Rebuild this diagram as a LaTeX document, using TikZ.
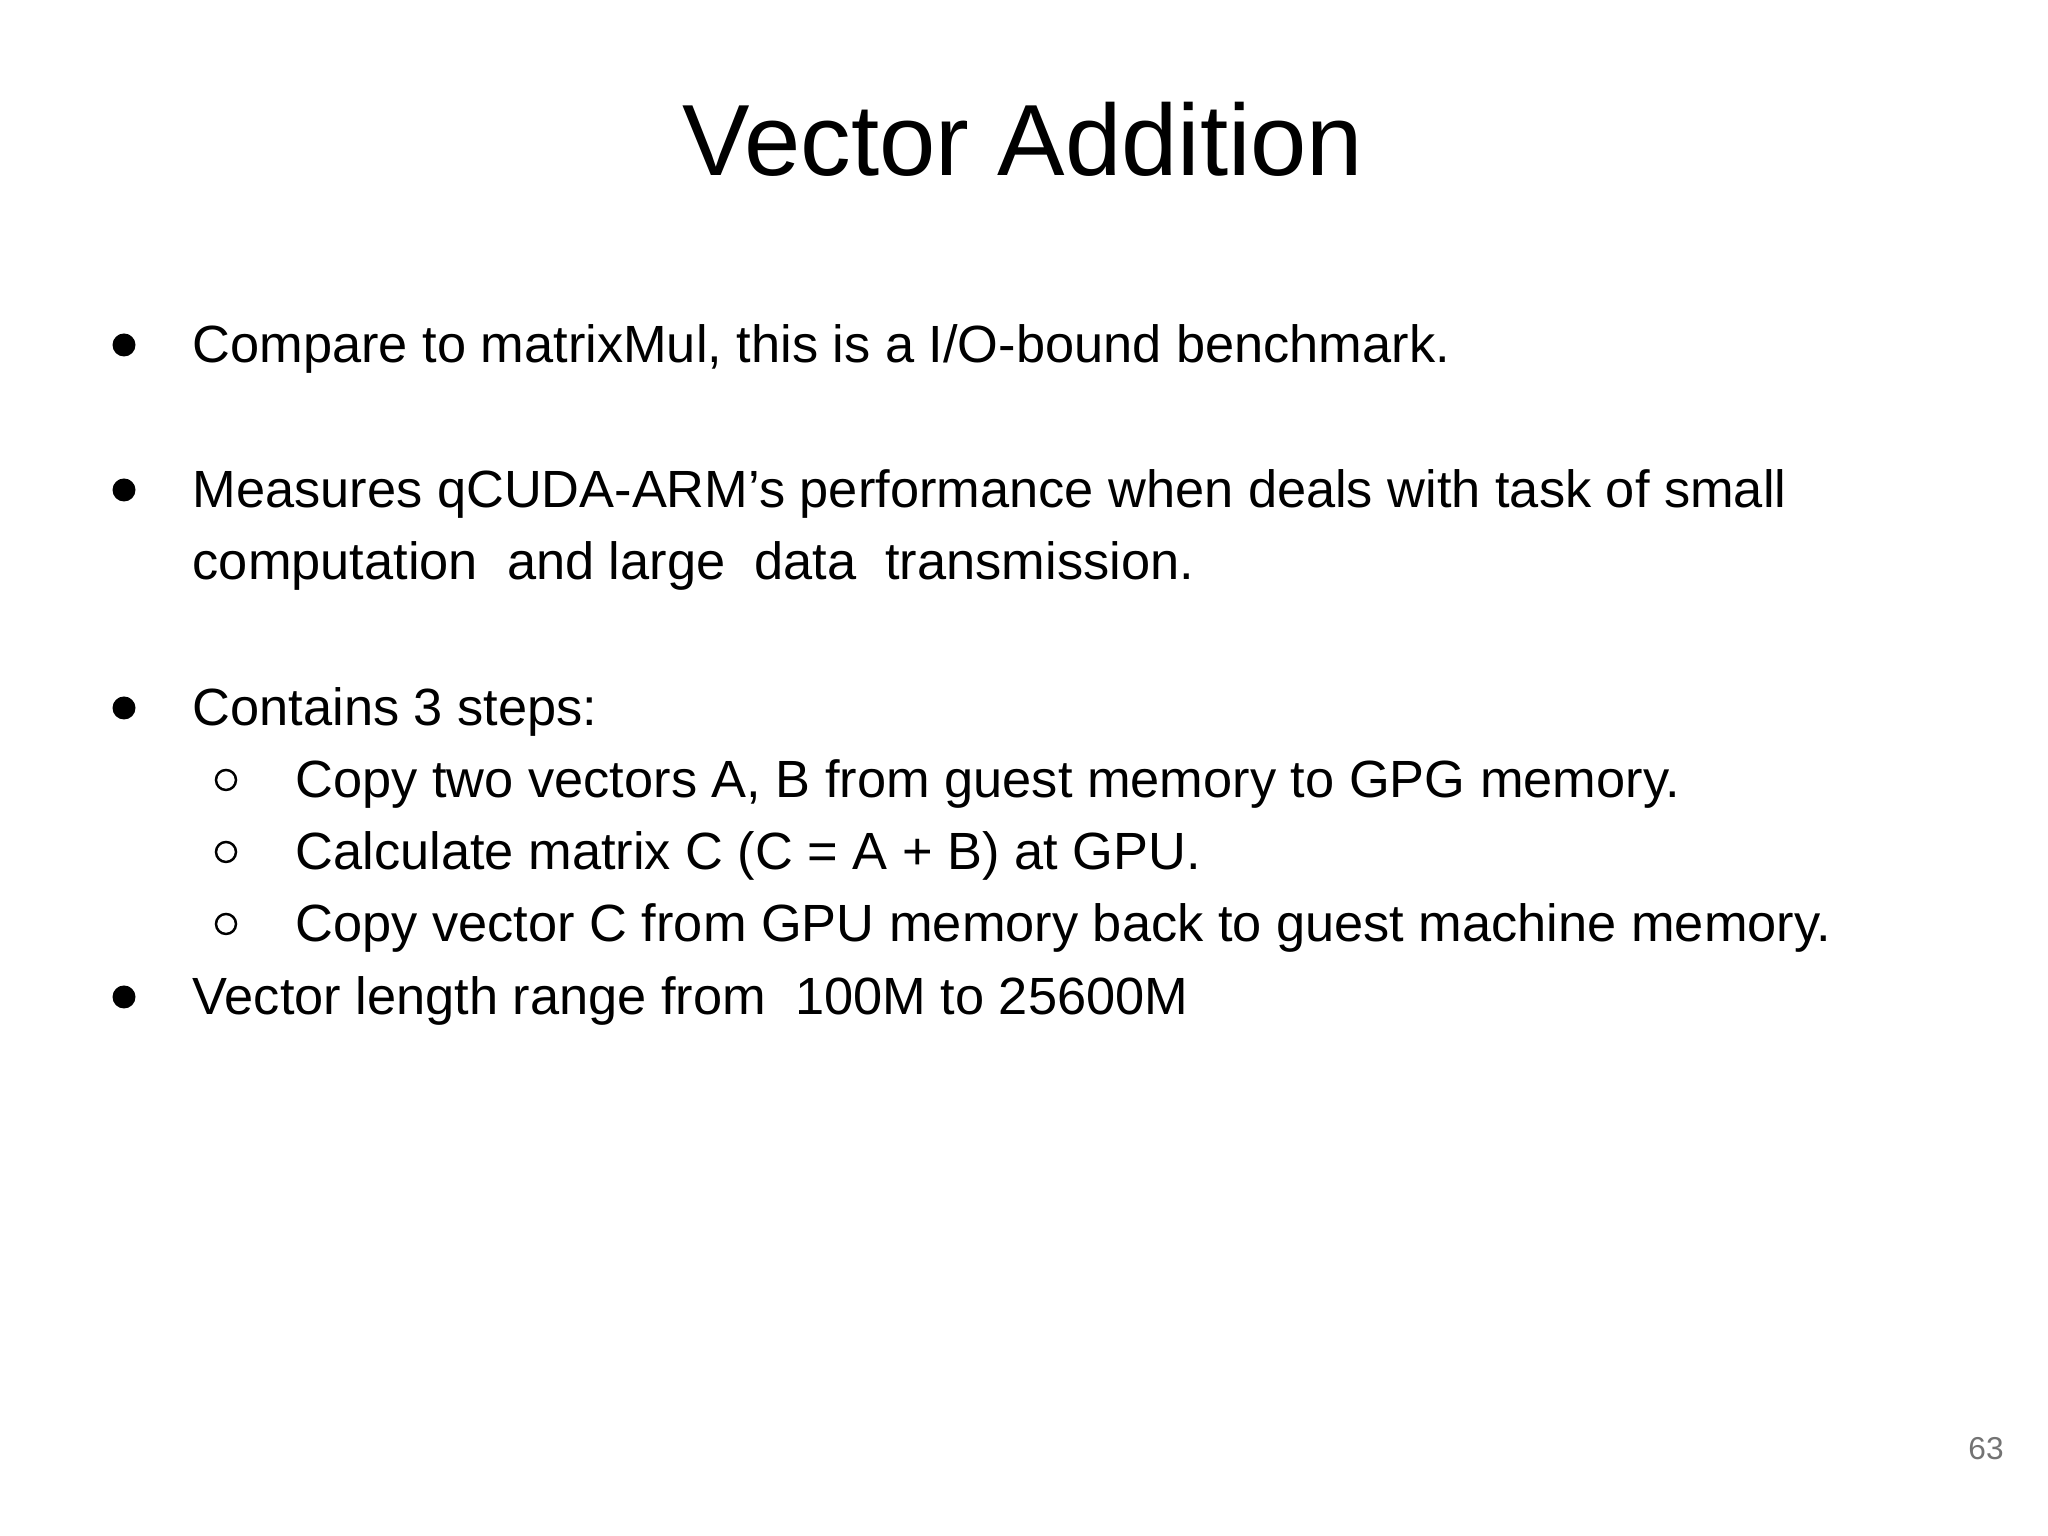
\documentclass[tikz,border=0pt]{standalone}
\usepackage{fontspec}
\setmainfont{Liberation Sans}
\begin{document}
\begin{tikzpicture}[x=1cm,y=1cm,
  body/.style={anchor=base west,inner sep=0pt,font=\fontsize{14.9}{18}\selectfont},
  dot/.style={fill=black,draw=none},
  ring/.style={draw=black,line width=0.7pt}]
\useasboundingbox (0,0) rectangle (20.48,15.36);
\node[anchor=base,inner sep=0pt,font=\fontsize{28.8}{34}\selectfont] (title) at (10.23,13.60) {Vector Addition};
\node[body] (l1) at (1.92,11.73) {Compare to matrixMul, this is a I/O-bound benchmark.};
\node[body] (l2) at (1.92,10.28) {Measures qCUDA-ARM’s performance when deals with task of small};
\node[body] (l3) at (1.92,9.56) {computation\ \ and large\ \ data\ \ transmission.};
\node[body] (l4) at (1.92,8.10) {Contains 3 steps:};
\node[body] (l5) at (2.95,7.38) {Copy two vectors A, B from guest memory to GPG memory.};
\node[body] (l6) at (2.95,6.66) {Calculate matrix C (C = A + B) at GPU.};
\node[body] (l7) at (2.95,5.94) {Copy vector C from GPU memory back to guest machine memory.};
\node[body] (l8) at (1.92,5.21) {Vector length range from\ \ 100M to 25600M};
\foreach \y in {11.73,10.28,8.10,5.21} \fill[dot] (1.24,\y+0.18) circle (0.115);
\foreach \y in {7.38,6.66,5.94} \draw[ring] (2.26,\y+0.18) circle (0.1);
\node[anchor=base,inner sep=0pt,text=black!55,font=\fontsize{9}{11}\selectfont] (pg) at (19.86,0.76) {63};
\end{tikzpicture}
\end{document}
